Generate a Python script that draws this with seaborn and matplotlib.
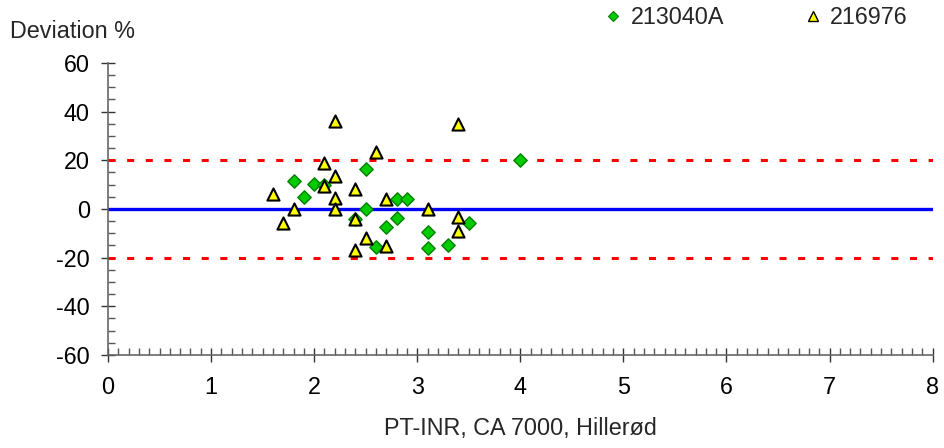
import matplotlib
matplotlib.use("Agg")
import matplotlib.pyplot as plt
import pandas as pd
import seaborn as sns
from matplotlib.lines import Line2D
from matplotlib.ticker import MultipleLocator

OUTPUT_PATH = "out.png"

SERIES_A = "213040A"
SERIES_B = "216976"

a_x = [1.8, 1.9, 2.0, 2.1, 2.4, 2.5, 2.5, 2.6, 2.7, 2.8, 2.8, 2.9, 3.1, 3.1, 3.3, 3.5, 4.0]
a_y = [11.4, 5.1, 10.1, 10.0, -4.0, 16.3, 0.0, -15.5, -7.4, 4.0, -3.6, 4.0, -9.3, -16.0, -14.9, -5.6, 20.0]

b_x = [1.6, 1.7, 1.8, 2.1, 2.1, 2.2, 2.2, 2.2, 2.2, 2.4, 2.4, 2.4, 2.5, 2.6, 2.7, 2.7, 3.1, 3.4, 3.4, 3.4]
b_y = [6.2, -5.6, 0.0, 18.8, 9.5, 36.3, 13.7, 4.4, 0.0, 8.1, -4.2, -16.9, -11.8, 23.3, 4.0, -15.1, 0.0, 34.9, -3.2, -8.9]

limit_lines = [-20, 20]
x_ticks = [0, 1, 2, 3, 4, 5, 6, 7, 8]
y_ticks = [-60, -40, -20, 0, 20, 40, 60]

FS = 16.8


def main() -> None:
    df = pd.concat([
        pd.DataFrame({"inr": a_x, "dev": a_y, "series": SERIES_A}),
        pd.DataFrame({"inr": b_x, "dev": b_y, "series": SERIES_B}),
    ])

    sns.set_theme(style="white")
    plt.rcParams["font.family"] = ["Liberation Sans", "DejaVu Sans"]
    plt.rcParams["axes.unicode_minus"] = False
    fig = plt.figure(figsize=(9.44, 4.48), dpi=100)
    ax = fig.add_axes([0.1144, 0.2076, 0.8735, 0.6518])

    ax.axhline(0, color="#0000ff", lw=2.4, zorder=2)
    for lim in limit_lines:
        ax.axhline(lim, color="#ff0000", lw=2.2, dashes=(2.3, 3.8), zorder=2)

    sns.scatterplot(data=df[df["series"] == SERIES_A], x="inr", y="dev",
                    marker="D", s=46, color="#00cc00", edgecolor="#007f00",
                    linewidth=1.0, ax=ax, zorder=3, legend=False)
    sns.scatterplot(data=df[df["series"] == SERIES_B], x="inr", y="dev",
                    marker="^", s=76, color="#ffff00", edgecolor="black",
                    linewidth=1.5, ax=ax, zorder=4, legend=False)

    ax.set_xlim(0, 8)
    ax.set_ylim(-60, 60)
    ax.set_xticks(x_ticks)
    ax.set_yticks(y_ticks)
    ax.xaxis.set_minor_locator(MultipleLocator(0.1))
    ax.yaxis.set_minor_locator(MultipleLocator(5))
    ax.tick_params(which="major", direction="inout", length=10, width=1,
                   color="#333333", labelsize=FS, labelcolor="black",
                   left=True, bottom=True)
    ax.tick_params(axis="y", which="major", pad=8)
    ax.tick_params(axis="x", which="major", pad=10)
    ax.tick_params(which="minor", direction="in", length=5, width=1,
                   color="#555555", left=True, bottom=True)

    for side in ["top", "right"]:
        ax.spines[side].set_visible(False)
    for side in ["left", "bottom"]:
        ax.spines[side].set_color("#666666")
        ax.spines[side].set_linewidth(1.2)

    ax.set_xlabel("PT-INR, CA 7000, Hillerød", fontsize=FS, labelpad=13)
    ax.set_ylabel("")
    fig.text(10 / 944, 1 - 32 / 448, "Deviation %", fontsize=FS, va="center", ha="left")

    handles = [
        Line2D([], [], ls="", marker="D", ms=5, mfc="#00cc00", mec="#007f00", mew=0.8),
        Line2D([], [], ls="", marker="^", ms=6.5, mfc="#ffff00", mec="black", mew=1.0),
    ]
    fig.legend(handles, [SERIES_A, SERIES_B], loc="center left",
               bbox_to_anchor=(606 / 944, 1 - 18 / 448), ncol=2, frameon=False,
               fontsize=FS, handlelength=0.6, handletextpad=0.45, columnspacing=3.5,
               borderaxespad=0, borderpad=0)

    ax.grid(False)
    fig.savefig(OUTPUT_PATH, dpi=100)


if __name__ == "__main__":
    main()
